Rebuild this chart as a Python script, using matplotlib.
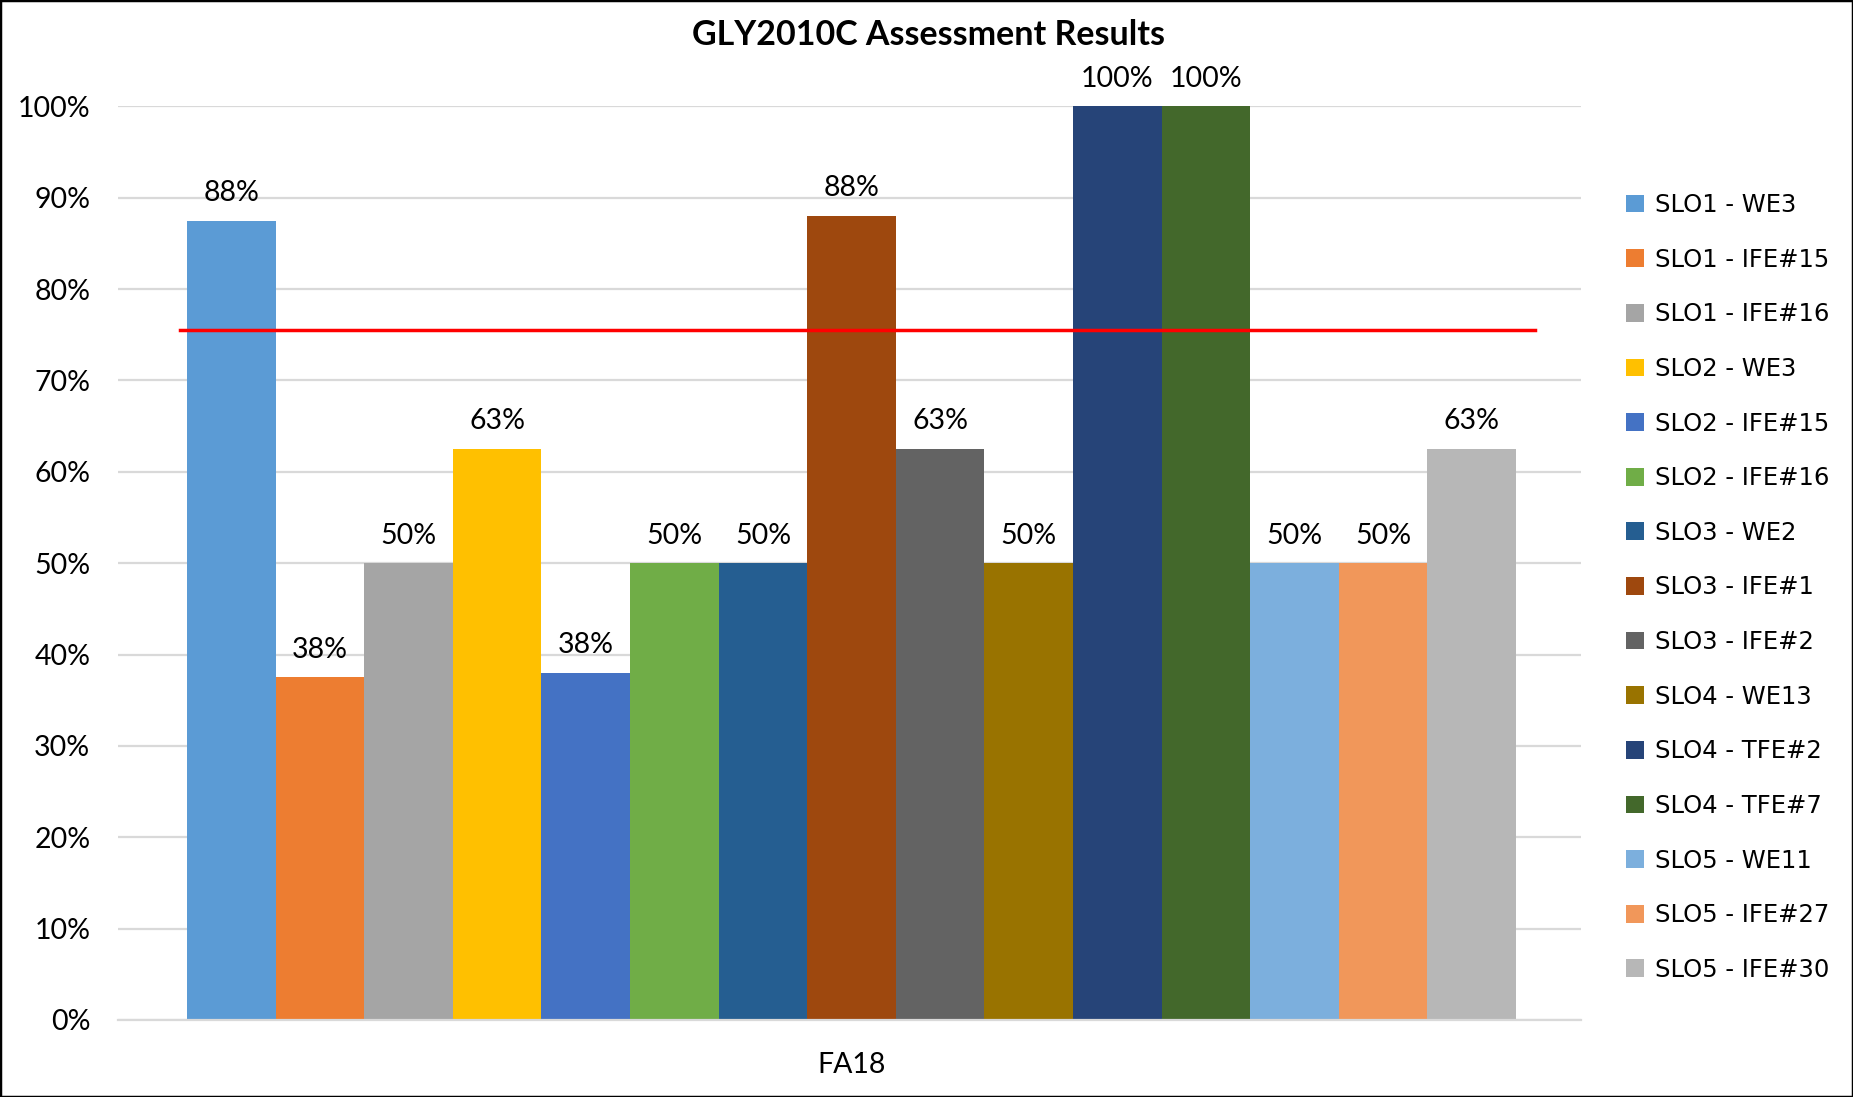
import matplotlib
matplotlib.use("Agg")
import matplotlib.pyplot as plt
from matplotlib.patches import Rectangle
import numpy as np

title = "GLY2010C Assessment Results"
category = "FA18"
series = ["SLO1 - WE3", "SLO1 - IFE#15", "SLO1 - IFE#16", "SLO2 - WE3", "SLO2 - IFE#15",
          "SLO2 - IFE#16", "SLO3 - WE2", "SLO3 - IFE#1", "SLO3 - IFE#2", "SLO4 - WE13",
          "SLO4 - TFE#2", "SLO4 - TFE#7", "SLO5 - WE11", "SLO5 - IFE#27", "SLO5 - IFE#30"]
values = [0.875, 0.375, 0.50, 0.625, 0.38, 0.50, 0.50, 0.88, 0.625, 0.50, 1.00, 1.00, 0.50, 0.50, 0.625]
value_labels = ["88%", "38%", "50%", "63%", "38%", "50%", "50%", "88%", "63%", "50%",
                "100%", "100%", "50%", "50%", "63%"]
colors = ["#5B9BD5", "#ED7D31", "#A5A5A5", "#FFC000", "#4472C4", "#70AD47", "#255E91",
          "#9E480E", "#636363", "#997300", "#264478", "#43682B", "#7CAFDD", "#F1975A", "#B7B7B7"]
target = 0.755
yticks = [0, 0.1, 0.2, 0.3, 0.4, 0.5, 0.6, 0.7, 0.8, 0.9, 1.0]
ytick_labels = ["0%", "10%", "20%", "30%", "40%", "50%", "60%", "70%", "80%", "90%", "100%"]

main_font = ["Lato", "DejaVu Sans"]

fig = plt.figure(figsize=(18.53, 10.97), dpi=100)
ax = fig.add_axes([0.0637, 0.0702, 0.7893, 0.8328])

n = len(values)
pos = np.arange(n) - (n - 1) / 2
for x, v, c, s, lab in zip(pos, values, colors, series, value_labels):
    ax.bar(x, v, width=1.0, color=c, label=s, zorder=2)
    ax.text(x, v + 0.016, lab, ha="center", va="bottom", fontsize=20.5,
            family=main_font, color="#000000", zorder=4)

ax.plot([pos[0] - 0.58, pos[-1] + 0.71], [target, target], color="#FF0000", lw=2.5, zorder=3)

ax.set_xlim(-8.28, 8.23)
ax.set_ylim(0, 1.0)
ax.set_yticks(yticks)
ax.set_yticklabels(ytick_labels, fontsize=20.5, family=main_font)
ax.set_xticks([0])
ax.set_xticklabels([category], fontsize=20.5, family=main_font)
ax.tick_params(axis="y", length=0, pad=20)
ax.tick_params(axis="x", length=0, pad=23)
ax.grid(axis="y", color="#D9D9D9", lw=1.6, zorder=0)
ax.set_axisbelow(True)
for sp in ["top", "right", "left"]:
    ax.spines[sp].set_visible(False)
ax.spines["bottom"].set_color("#D9D9D9")
ax.spines["bottom"].set_linewidth(1.6)

fig.text(0.501, 0.968, title, ha="center", va="center", fontsize=24.5, fontweight="bold",
         family=main_font)

leg = ax.legend(loc="upper left", bbox_to_anchor=(0.8775, 0.824), bbox_transform=fig.transFigure,
                frameon=False, prop={"family": "DejaVu Sans", "size": 17.5},
                handlelength=0.75, handleheight=0.75, handletextpad=0.45, labelspacing=1.26,
                borderaxespad=0, borderpad=0)

fig.patches.append(Rectangle((0, 0), 1, 1, transform=fig.transFigure, fill=False,
                             edgecolor="#000000", lw=2.5))

fig.savefig("out.png", dpi=100)
